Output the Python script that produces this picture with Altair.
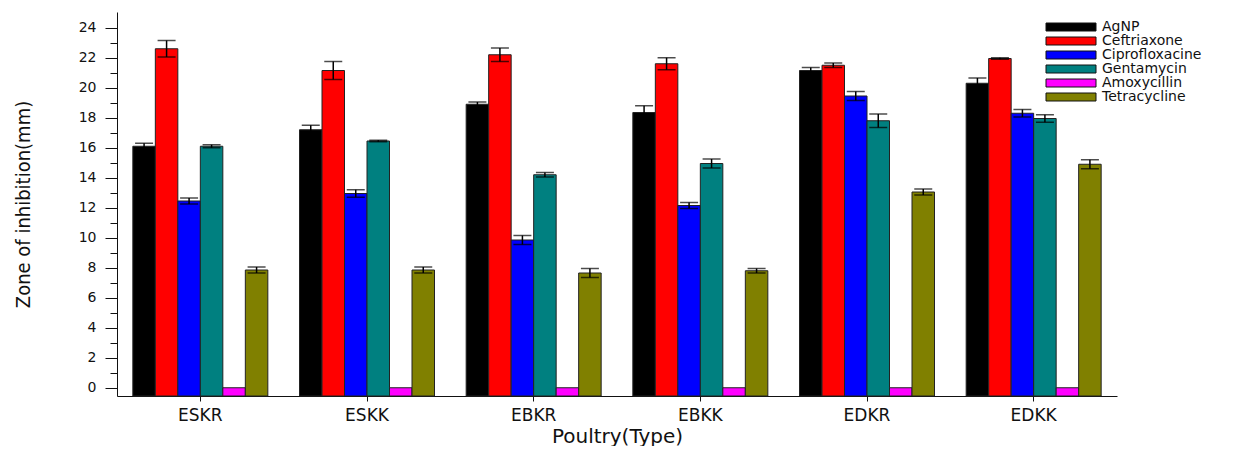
import altair as alt
import pandas as pd

categories = ["ESKR", "ESKK", "EBKR", "EBKK", "EDKR", "EDKK"]
drugs = ["AgNP", "Ceftriaxone", "Ciprofloxacine", "Gentamycin", "Amoxycillin", "Tetracycline"]
colors = ["#000000", "#FF0000", "#0000FF", "#008080", "#FF00FF", "#808000"]

agnp = [16.1, 17.2, 18.9, 18.35, 21.15, 20.3]
agnp_err = [0.2, 0.3, 0.15, 0.45, 0.2, 0.35]
ceftriaxone = [22.6, 21.15, 22.2, 21.6, 21.5, 21.95]
ceftriaxone_err = [0.55, 0.6, 0.45, 0.4, 0.15, 0.05]
cipro = [12.45, 12.95, 9.85, 12.15, 19.45, 18.3]
cipro_err = [0.2, 0.25, 0.3, 0.2, 0.3, 0.25]
genta = [16.1, 16.45, 14.2, 14.95, 17.8, 17.95]
genta_err = [0.1, 0.05, 0.15, 0.3, 0.45, 0.25]
amox = [0, 0, 0, 0, 0, 0]
amox_err = [0, 0, 0, 0, 0, 0]
tetra = [7.85, 7.85, 7.65, 7.8, 13.05, 14.9]
tetra_err = [0.2, 0.2, 0.3, 0.15, 0.2, 0.3]

series = [agnp, ceftriaxone, cipro, genta, amox, tetra]
errors = [agnp_err, ceftriaxone_err, cipro_err, genta_err, amox_err, tetra_err]

YMIN, YMAX = -0.55, 25.05

rows = []
for d, vals, errs in zip(drugs, series, errors):
    for c, v, e in zip(categories, vals, errs):
        rows.append({"cat": c, "drug": d, "val": v, "err": e,
                     "lo": v - e, "hi": v + e})
df = pd.DataFrame(rows)

FONT = "DejaVu Sans"

x = alt.X("cat:N", sort=categories, title="Poultry(Type)",
          scale=alt.Scale(paddingInner=0.19, paddingOuter=0.095),
          axis=alt.Axis(labelAngle=0, labelFont=FONT, labelFontSize=17,
                        labelBaseline="alphabetic", labelPadding=19,
                        tickSize=5, tickColor="#111", domainColor="#111",
                        labelColor="#111", titleFont=FONT, titleFontSize=20,
                        titleFontWeight="normal", titleColor="#111",
                        titleY=46, titleBaseline="alphabetic"))
xo = alt.XOffset("drug:N", sort=drugs, scale=alt.Scale(paddingInner=0, paddingOuter=0))
yscale = alt.Scale(domain=[YMIN, YMAX], zero=False, nice=False)

yaxis = alt.Axis(values=list(range(0, 25)),
                 labelExpr="datum.value % 2 === 0 ? datum.label : ''",
                 tickSize={"condition": {"test": "datum.value % 2 === 0", "value": 12}, "value": 7},
                 labelFont=FONT, labelFontSize=14, labelPadding=9,
                 labelColor="#111", tickColor="#111", domainColor="#111",
                 grid=False, labelOverlap=False,
                 titleFont="Liberation Sans Narrow, DejaVu Sans Condensed, Liberation Sans",
                 titleFontSize=20, titleFontWeight="normal", titleColor="#111",
                 titleAngle=-90, titleX=-94, titleY=192,
                 titleAlign="center", titleBaseline="middle")
YTITLE = "Zone of inhibition(mm)"

bars = alt.Chart(df).mark_bar(stroke="#222", strokeWidth=1).encode(
    x=x,
    xOffset=xo,
    y=alt.Y("val:Q", scale=yscale, title=YTITLE, axis=yaxis),
    y2=alt.datum(YMIN),
    color=alt.Color("drug:N", sort=drugs,
                    scale=alt.Scale(domain=drugs, range=colors),
                    legend=alt.Legend(title=None, orient="none", legendX=947, legendY=8,
                                      symbolType="M-6.25,-1H6.25V1H-6.25Z", symbolSize=64,
                                      symbolStrokeColor="#111", symbolStrokeWidth=1,
                                      symbolOpacity=1,
                                      labelFont=FONT, labelFontSize=14, labelColor="#111",
                                      labelOffset=24, rowPadding=-0.8)),
)

err_df = alt.Chart(df).transform_filter("datum.err > 0")

rules = err_df.mark_rule(color="black", strokeWidth=1.5).encode(
    x=x, xOffset=xo,
    y=alt.Y("lo:Q", scale=yscale, title=YTITLE, axis=yaxis),
    y2="hi:Q",
)
caps_hi = err_df.mark_tick(color="black", thickness=1.5, size=18).encode(
    x=x, xOffset=xo, y=alt.Y("hi:Q", scale=yscale, title=YTITLE, axis=yaxis))
caps_lo = err_df.mark_tick(color="black", thickness=1.5, size=18).encode(
    x=x, xOffset=xo, y=alt.Y("lo:Q", scale=yscale, title=YTITLE, axis=yaxis))

chart = alt.layer(bars, rules, caps_hi, caps_lo).properties(
    width=1000, height=384,
    background="white",
    autosize=alt.AutoSizeParams(type="none"),
    padding={"left": 109, "top": 4, "right": 115, "bottom": 50},
).configure_view(strokeWidth=0, stroke="transparent")

chart.save("out.html", embed_options={"renderer": "svg", "actions": False})
